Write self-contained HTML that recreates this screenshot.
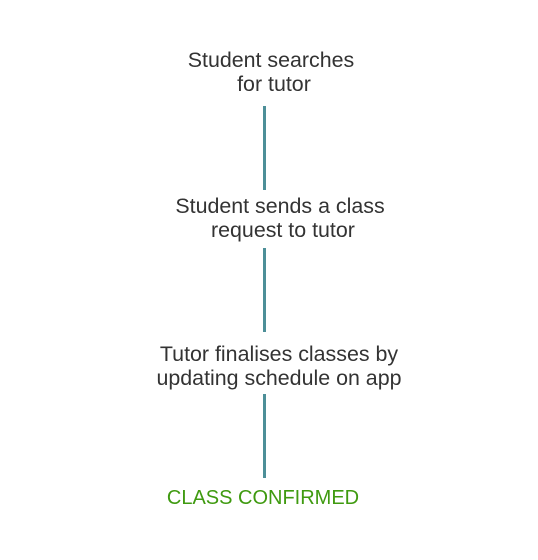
<!DOCTYPE html>
<html><head><style>
body{margin:0;width:538px;height:560px;background:#fff;position:relative;font-family:"Liberation Sans",sans-serif;}
.t{position:absolute;left:0;width:538px;text-align:center;font-size:21.4px;color:#333;line-height:24px;}
.l{position:absolute;left:263px;width:3px;background:#4d8f98;}
</style></head><body>
<div class="t" style="top:48px;left:2px">Student searches<br>&nbsp;for tutor</div>
<div class="l" style="top:106px;height:84px"></div>
<div class="t" style="top:194px;left:11px">Student sends a class<br>&nbsp;request to tutor</div>
<div class="l" style="top:248px;height:84px"></div>
<div class="t" style="top:342px;left:10px">Tutor finalises classes by<br>updating schedule on app</div>
<div class="l" style="top:394px;height:84px"></div>
<div class="t" style="top:486px;left:-6px;font-size:20px;color:#3f9a10">CLASS CONFIRMED</div>
</body></html>
